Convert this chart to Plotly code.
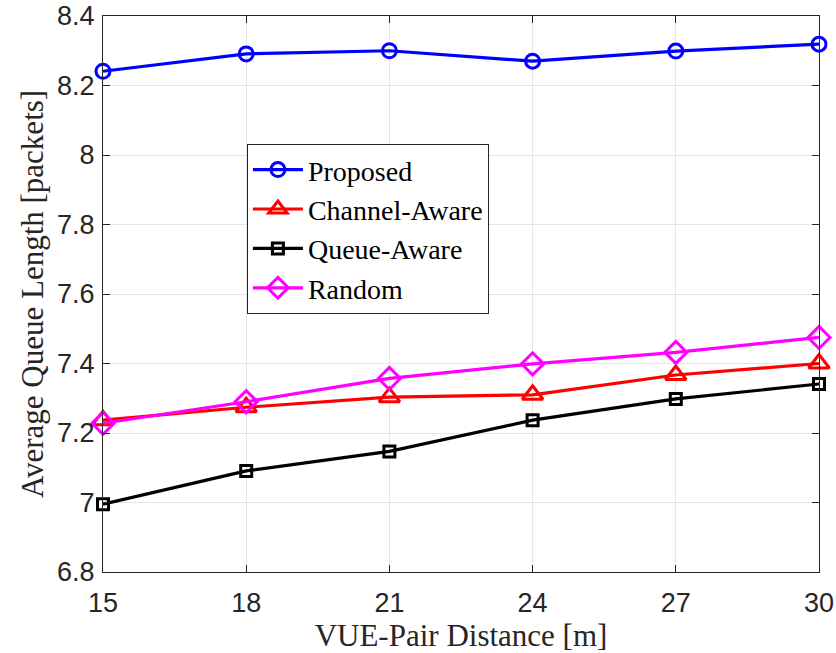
import plotly.graph_objects as go

# VUE-pair distance [m]
distance = [15, 18, 21, 24, 27, 30]

# Average queue length [packets] per scheme
proposed = [8.241, 8.291, 8.300, 8.270, 8.299, 8.319]
channel_aware = [7.237, 7.274, 7.303, 7.310, 7.367, 7.400]
queue_aware = [6.995, 7.091, 7.147, 7.237, 7.298, 7.341]
random_sched = [7.228, 7.290, 7.357, 7.399, 7.432, 7.475]

x_ticks = [15, 18, 21, 24, 27, 30]
y_ticks = [6.8, 7.0, 7.2, 7.4, 7.6, 7.8, 8.0, 8.2, 8.4]
y_tick_text = ["6.8", "7", "7.2", "7.4", "7.6", "7.8", "8", "8.2", "8.4"]

serif = "Liberation Serif"
sans = "Liberation Sans"
axis_col = "#262626"

series = [
    ("Proposed", proposed, "#0000ff", "circle-open", 14),
    ("Channel-Aware", channel_aware, "#ff0000", "triangle-up-open", 18),
    ("Queue-Aware", queue_aware, "#000000", "square-open", 11),
    ("Random", random_sched, "#ff00ff", "diamond-open", 17),
]

fig = go.Figure()
for name, vals, col, sym, size in series:
    fig.add_trace(go.Scatter(
        x=distance, y=vals, name=name, mode="lines+markers",
        line=dict(color=col, width=3.2),
        marker=dict(symbol=sym, size=size, color=col, line=dict(color=col, width=3)),
        cliponaxis=False,
    ))

axis_common = dict(
    showline=True, linecolor=axis_col, linewidth=1, mirror="ticks",
    ticks="inside", ticklen=7, tickcolor=axis_col,
    showgrid=True, gridcolor="#e5e5e5", gridwidth=1,
    zeroline=False, automargin=False,
    tickfont=dict(family=sans, size=27, color=axis_col),
)

fig.update_xaxes(
    range=[15, 30], tickvals=x_ticks, ticklabelstandoff=7,
    title=dict(text="VUE-Pair Distance [m]", font=dict(family=serif, size=31, color=axis_col), standoff=4),
    **axis_common,
)
fig.update_yaxes(
    range=[6.8, 8.4], tickvals=y_ticks, ticktext=y_tick_text, ticklabelstandoff=2,
    title=dict(text="Average Queue Length [packets]", font=dict(family=serif, size=31, color=axis_col), standoff=4),
    **axis_common,
)

fig.update_layout(
    width=836, height=653,
    margin=dict(l=103, r=17, t=16, b=81),
    plot_bgcolor="white", paper_bgcolor="white",
    legend=dict(
        x=0.201, y=0.770, xanchor="left", yanchor="top",
        bgcolor="white", bordercolor=axis_col, borderwidth=1,
        font=dict(family=serif, size=28, color="#000000"),
        itemwidth=50, tracegroupgap=0,
    ),
    showlegend=True,
)

fig.write_html("out.html")
